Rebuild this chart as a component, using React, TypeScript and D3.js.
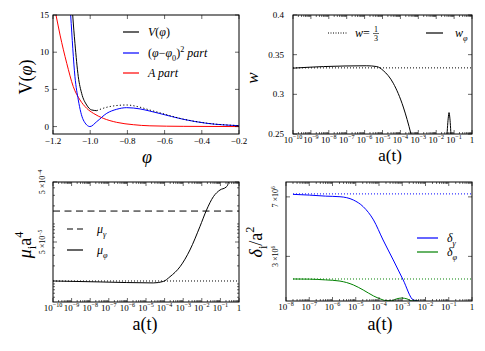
import { useEffect, useRef } from "react";
import * as d3 from "d3";

// top-left: potential and its two parts
const phiVSolid = [-1.1, -1.094, -1.082, -1.064, -1.046, -1.019, -0.992, -0.965];
const vSolid = [17.5, 15, 11.2, 6.7, 4.47, 2.9, 2.23, 2.14];
const phiVDot = [-0.965, -0.93, -0.876, -0.804, -0.732, -0.679, -0.625, -0.5, -0.374, -0.2];
const vDot = [2.14, 2.46, 2.77, 2.9, 2.6, 2.22, 1.85, 1.0, 0.46, 0.13];
const phiBlue = [-1.11, -1.105, -1.082, -1.064, -1.037, -1.001, -0.965, -0.911, -0.858, -0.804, -0.732, -0.679, -0.625, -0.5, -0.374, -0.2];
const vBlue = [17, 15, 6.7, 3.58, 0.89, 0, 0.66, 1.78, 2.32, 2.54, 2.37, 2.08, 1.75, 0.98, 0.44, 0.12];
const phiRed = [-1.2, -1.184, -1.162, -1.126, -1.091, -1.055, -1.019, -0.983, -0.93, -0.858, -0.768, -0.679, -0.5, -0.2];
const vRed = [16.8, 15, 12.3, 8.5, 5.37, 3.58, 2.46, 1.78, 1.11, 0.57, 0.25, 0.1, 0.03, 0.0];
const phiTicks = [-1.2, -1.0, -0.8, -0.6, -0.4, -0.2];
const vTicks = [0, 5, 10, 15];

// top-right: equation of state
const aW = [1e-10, 5e-9, 1.3e-6, 4.8e-6, 1.1e-5, 4e-5, 1.45e-4, 3.9e-4, 5e-4];
const wPhi = [0.333, 0.335, 0.336, 0.335, 0.33, 0.314, 0.284, 0.25, 0.24];
const aSpike = [0.038, 0.047, 0.052, 0.058, 0.07];
const wSpike = [0.24, 0.27, 0.277, 0.27, 0.24];
const wRad = 1 / 3;
const wTicks = [0.25, 0.3, 0.35, 0.4];

// bottom-left: energy densities times a^4
const aMu = [1e-10, 3.4e-8, 2.5e-5, 8.5e-5, 1.95e-4, 6.8e-4, 2.3e-3, 7.9e-3, 1.8e-2, 4.2e-2, 9.5e-2, 0.2, 0.25, 0.28];
const muPhi = [1.12e-5, 1.08e-5, 1.04e-5, 1.1e-5, 1.32e-5, 1.94e-5, 3.68e-5, 9.0e-5, 1.71e-4, 2.85e-4, 3.68e-4, 4.1e-4, 4.5e-4, 6e-4];
const muGamma = 1.64e-4;
const muPhiInit = 1.12e-5;
const muTicks = [5e-5, 5e-4];

// bottom-right: perturbations over a^2
const aDelta = [2e-8, 1e-7, 5e-7, 2.1e-6, 7.9e-6, 2.1e-5, 5.8e-5, 1.5e-4, 4.1e-4, 1.1e-3, 3.0e-3, 5e-3];
const deltaGamma = [7.17e6, 7.12e6, 7.05e6, 7.01e6, 6.79e6, 6.34e6, 5.45e6, 4.1e6, 2.76e6, 1.41e6, 0.07e6, 0];
const aDeltaPhi = [2e-8, 1e-7, 5e-7, 2.1e-6, 7.9e-6, 2.1e-5, 5.8e-5, 1.5e-4, 2e-4, 3.5e-4, 5.6e-4, 9.5e-4, 1.6e-3, 2.6e-3, 5e-3];
const deltaPhi = [1.48e6, 1.47e6, 1.42e6, 1.34e6, 1.08e6, 0.74e6, 0.34e6, 0.07e6, 0.02e6, 0.02e6, 0.14e6, 0.2e6, 0.14e6, 0.01e6, 0];
const deltaGammaInit = 7.2e6;
const deltaPhiInit = 1.48e6;
const deltaTicks = [3e6, 7e6];

const FONT = "'Liberation Serif', 'DejaVu Serif', serif";

type Part = { t: string; sup?: boolean; sub?: boolean; it?: boolean };

// write text with super/subscripts using dy offsets
const rich = (text: any, parts: Part[], size: number) => {
  let shift = 0;
  parts.forEach((p) => {
    const target = p.sup ? -0.42 * size : p.sub ? 0.3 * size : 0;
    const ts = text.append("tspan").text(p.t).attr("dy", target - shift);
    if (p.sup || p.sub) ts.attr("font-size", size * 0.68);
    if (p.it) ts.attr("font-style", "italic");
    shift = target;
  });
};

const pow10 = (e: number): Part[] => (e === 0 ? [{ t: "1" }] : [{ t: "10" }, { t: `−${-e}`, sup: true }]);

const App = () => {
  const svgRef = useRef<SVGSVGElement>(null);

  useEffect(() => {
    const svg = d3.select(svgRef.current);
    svg.selectAll("*").remove();

    let clipId = 0;
    const panel = (x0: number, y0: number, x1: number, y1: number) => {
      const g = svg.append("g");
      const id = `clip${clipId++}`;
      svg.append("clipPath").attr("id", id).append("rect").attr("x", x0).attr("y", y0).attr("width", x1 - x0).attr("height", y1 - y0);
      const plot = g.append("g").attr("clip-path", `url(#${id})`);
      return { g, plot };
    };
    const frame = (g: any, x0: number, y0: number, x1: number, y1: number) =>
      g.append("rect").attr("x", x0).attr("y", y0).attr("width", x1 - x0).attr("height", y1 - y0).attr("fill", "none").attr("stroke", "#000").attr("stroke-width", 1);

    const xTick = (g: any, x: number, y0: number, y1: number, len: number) => {
      g.append("line").attr("x1", x).attr("x2", x).attr("y1", y1).attr("y2", y1 - len).attr("stroke", "#000").attr("stroke-width", 0.6);
      g.append("line").attr("x1", x).attr("x2", x).attr("y1", y0).attr("y2", y0 + len).attr("stroke", "#000").attr("stroke-width", 0.6);
    };
    const yTick = (g: any, y: number, x0: number, x1: number, len: number) => {
      g.append("line").attr("x1", x0).attr("x2", x0 + len).attr("y1", y).attr("y2", y).attr("stroke", "#000").attr("stroke-width", 0.6);
      g.append("line").attr("x1", x1).attr("x2", x1 - len).attr("y1", y).attr("y2", y).attr("stroke", "#000").attr("stroke-width", 0.6);
    };

    const logTicks = (g: any, x: any, lo: number, hi: number, y0: number, y1: number) => {
      for (let e = lo; e <= hi; e++) {
        xTick(g, x(Math.pow(10, e)), y0, y1, 4);
        if (e < hi) for (let k = 2; k <= 9; k++) xTick(g, x(k * Math.pow(10, e)), y0, y1, 2);
        const t = g.append("text").attr("x", x(Math.pow(10, e))).attr("y", y1 + 9).attr("text-anchor", "middle").attr("font-size", 9);
        rich(t, pow10(e), 9);
      }
    };

    const drawLine = (g: any, xs: number[], ys: number[], x: any, y: any, color: string, dash?: string, width = 1) =>
      g.append("path")
        .datum(xs.map((v, i) => [v, ys[i]]))
        .attr("d", d3.line().x((d: any) => x(d[0])).y((d: any) => y(d[1])).curve(d3.curveMonotoneX))
        .attr("fill", "none").attr("stroke", color).attr("stroke-width", width)
        .attr("stroke-dasharray", dash || null);

    const legendItem = (g: any, lx0: number, lx1: number, ly: number, color: string, dash: string | null, parts: Part[], tx: number, size = 12) => {
      g.append("line").attr("x1", lx0).attr("x2", lx1).attr("y1", ly).attr("y2", ly).attr("stroke", color).attr("stroke-width", 1.2).attr("stroke-dasharray", dash);
      const t = g.append("text").attr("x", tx).attr("y", ly + 4).attr("font-size", size);
      rich(t, parts, size);
    };

    const axisLabel = (g: any, x: number, y: number, parts: Part[], size: number, rotate = false) => {
      const t = g.append("text").attr("text-anchor", "middle").attr("font-size", size)
        .attr("transform", rotate ? `translate(${x},${y}) rotate(-90)` : `translate(${x},${y})`);
      rich(t, parts, size);
    };

    // ---- panel 1 ----
    {
      const [x0, y0, x1, y1] = [53, 15, 239, 134];
      const { g, plot } = panel(x0, y0, x1, y1);
      const x = d3.scaleLinear().domain([-1.2, -0.2]).range([x0, x1]);
      const y = d3.scaleLinear().domain([-1, 15]).range([y1, y0]);
      drawLine(plot, phiRed, vRed, x, y, "#ff0000");
      drawLine(plot, phiBlue, vBlue, x, y, "#0000ff");
      drawLine(plot, phiVDot, vDot, x, y, "#000", "1.2,2.2");
      drawLine(plot, phiVSolid, vSolid, x, y, "#000");
      frame(g, x0, y0, x1, y1);
      phiTicks.forEach((v) => {
        xTick(g, x(v), y0, y1, 4);
        g.append("text").attr("x", x(v)).attr("y", y1 + 10).attr("text-anchor", "middle").attr("font-size", 9).text(`−${Math.abs(v).toFixed(1)}`);
      });
      vTicks.forEach((v) => {
        yTick(g, y(v), x0, x1, 4);
        g.append("text").attr("x", x0 - 4).attr("y", y(v) + 3).attr("text-anchor", "end").attr("font-size", 9).text(v);
      });
      legendItem(g, 123, 139, 32, "#000", null, [{ t: "V", it: true }, { t: "(" }, { t: "φ", it: true }, { t: ")" }], 148);
      legendItem(g, 123, 139, 53, "#0000ff", null, [{ t: "(" }, { t: "φ", it: true }, { t: "−" }, { t: "φ", it: true }, { t: "0", sub: true }, { t: ")" }, { t: "2", sup: true }, { t: "  part", it: true }], 148);
      legendItem(g, 123, 139, 73, "#ff0000", null, [{ t: "A part", it: true }], 148);
      axisLabel(g, 32, 77, [{ t: "V(" }, { t: "φ", it: true }, { t: ")" }], 18, true);
      axisLabel(g, 147, 163, [{ t: "φ", it: true }], 18);
    }

    // ---- panel 2 ----
    {
      const [x0, y0, x1, y1] = [293, 15, 472, 134];
      const { g, plot } = panel(x0, y0, x1, y1);
      const x = d3.scaleLog().domain([1e-10, 1]).range([x0, x1]);
      const y = d3.scaleLinear().domain([0.25, 0.4]).range([y1, y0]);
      drawLine(plot, [1e-10, 1], [wRad, wRad], x, y, "#000", "1,2");
      drawLine(plot, aW, wPhi, x, y, "#000");
      drawLine(plot, aSpike, wSpike, x, y, "#000");
      frame(g, x0, y0, x1, y1);
      logTicks(g, x, -10, 0, y0, y1);
      wTicks.forEach((v) => {
        yTick(g, y(v), x0, x1, 4);
        g.append("text").attr("x", x0 - 9).attr("y", y(v) + 3).attr("text-anchor", "end").attr("font-size", 9).text(String(v));
      });
      g.append("line").attr("x1", 328).attr("x2", 347).attr("y1", 33).attr("y2", 33).attr("stroke", "#000").attr("stroke-dasharray", "1,1.5");
      const t = g.append("text").attr("x", 355).attr("y", 37).attr("font-size", 12);
      rich(t, [{ t: "w", it: true }, { t: "=" }], 12);
      g.append("text").attr("x", 376).attr("y", 31.5).attr("font-size", 8).attr("text-anchor", "middle").text("1");
      g.append("line").attr("x1", 373).attr("x2", 379).attr("y1", 33.5).attr("y2", 33.5).attr("stroke", "#000").attr("stroke-width", 0.6);
      g.append("text").attr("x", 376).attr("y", 40.5).attr("font-size", 8).attr("text-anchor", "middle").text("3");
      legendItem(g, 426, 443, 33, "#000", null, [{ t: "w", it: true }, { t: "φ", sub: true, it: true }], 455);
      axisLabel(g, 258, 78, [{ t: "w", it: true }], 17, true);
      axisLabel(g, 390, 161, [{ t: "a(t)" }], 17);
    }

    // ---- panel 3 ----
    {
      const [x0, y0, x1, y1] = [53, 182, 239, 302];
      const { g, plot } = panel(x0, y0, x1, y1);
      const x = d3.scaleLog().domain([1e-10, 1]).range([x0, x1]);
      const y = d3.scaleLog().domain([5e-6, 5e-4]).range([y1, y0]);
      drawLine(plot, [1e-10, 1], [muPhiInit, muPhiInit], x, y, "#000", "1,2");
      drawLine(plot, [1e-10, 1], [muGamma, muGamma], x, y, "#000", "7,4.5");
      drawLine(plot, aMu, muPhi, x, y, "#000");
      frame(g, x0, y0, x1, y1);
      logTicks(g, x, -10, 0, y0, y1);
      [-6, -5, -4].forEach((e) => {
        for (let k = 1; k <= 9; k++) {
          const v = k * Math.pow(10, e);
          if (v < 5e-6 || v > 5e-4) continue;
          yTick(g, y(v), x0, x1, v === 5e-5 || v === 5e-4 ? 4 : 2);
        }
      });
      muTicks.forEach((v) => {
        const e = Math.floor(Math.log10(v));
        const t = g.append("text").attr("text-anchor", "middle").attr("font-size", 8)
          .attr("transform", `translate(${x0 - 8},${y(v)}) rotate(-90)`);
        rich(t, [{ t: "5 ×10" }, { t: `−${-e}`, sup: true }], 8);
      });
      legendItem(g, 67, 83, 229, "#000", "6,4", [{ t: "μ", it: true }, { t: "γ", sub: true, it: true }], 97);
      legendItem(g, 67, 83, 250, "#000", null, [{ t: "μ", it: true }, { t: "φ", sub: true, it: true }], 97);
      axisLabel(g, 31, 245, [{ t: "μ", it: true }, { t: "i", sub: true }, { t: "a" }, { t: "4", sup: true }], 18, true);
      axisLabel(g, 145, 330, [{ t: "a(t)" }], 18);
    }

    // ---- panel 4 ----
    {
      const [x0, y0, x1, y1] = [286, 182, 472, 301];
      const { g, plot } = panel(x0, y0, x1, y1);
      const x = d3.scaleLog().domain([1e-8, 1]).range([x0, x1]);
      const y = d3.scaleLinear().domain([0, 8e6]).range([y1, y0]);
      drawLine(plot, [2e-8, 1], [deltaGammaInit, deltaGammaInit], x, y, "#0000ff", "1,2");
      drawLine(plot, [2e-8, 1], [deltaPhiInit, deltaPhiInit], x, y, "#008000", "1,2");
      drawLine(plot, aDelta, deltaGamma, x, y, "#0000ff");
      drawLine(plot, aDeltaPhi, deltaPhi, x, y, "#008000");
      frame(g, x0, y0, x1, y1);
      logTicks(g, x, -8, 0, y0, y1);
      deltaTicks.forEach((v) => {
        yTick(g, y(v), x0, x1, 4);
        const t = g.append("text").attr("text-anchor", "middle").attr("font-size", 8)
          .attr("transform", `translate(${x0 - 8},${y(v)}) rotate(-90)`);
        rich(t, [{ t: `${v / 1e6} ×10` }, { t: "6", sup: true }], 8);
      });
      legendItem(g, 417, 438, 238, "#0000ff", null, [{ t: "δ", it: true }, { t: "γ", sub: true, it: true }], 447);
      legendItem(g, 417, 438, 252, "#008000", null, [{ t: "δ", it: true }, { t: "φ", sub: true, it: true }], 447);
      axisLabel(g, 262, 242, [{ t: "δ", it: true }, { t: "i", sub: true }, { t: "/a" }, { t: "2", sup: true }], 18, true);
      axisLabel(g, 380, 330, [{ t: "a(t)" }], 18);
    }
  }, []);

  return (
    <div style={{ position: "absolute", left: 0, top: 0, background: "#fff" }}>
      <svg ref={svgRef} width={485} height={351} style={{ display: "block", fontFamily: FONT }}></svg>
    </div>
  );
};

export default App;
